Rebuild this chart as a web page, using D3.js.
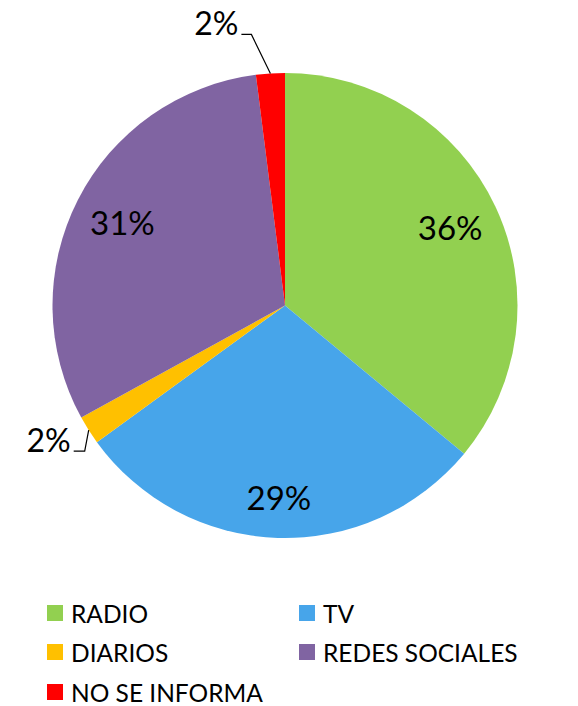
<!DOCTYPE html>
<html>
<head>
<meta charset="utf-8">
<script src="https://cdn.jsdelivr.net/npm/d3@7"></script>
<style>
  html, body { margin: 0; padding: 0; background: #fff; }
  svg { display: block; }
  text { font-family: Lato, "Open Sans", sans-serif; fill: #000; }
</style>
</head>
<body>
<svg id="chart" width="578" height="706"></svg>
<script>
// Media sources (share of respondents, %)
const categories = ["RADIO", "TV", "DIARIOS", "REDES SOCIALES", "NO SE INFORMA"];
const values = [36, 29, 2, 31, 2];
const colors = ["#92D050", "#47A5EA", "#FFC000", "#8064A2", "#FF0000"];
const labels = ["36%", "29%", "2%", "31%", "2%"];

const svg = d3.select("#chart");
const cx = 285, cy = 305.5, R = 232.5;

const pie = d3.pie().sort(null).value(d => d.value);
const arcs = pie(categories.map((c, i) => ({ name: c, value: values[i], color: colors[i], label: labels[i] })));

const arc = d3.arc().innerRadius(0).outerRadius(R);
const g = svg.append("g").attr("transform", `translate(${cx},${cy})`);

g.selectAll("path.slice")
  .data(arcs)
  .join("path")
  .attr("class", "slice")
  .attr("d", arc)
  .attr("fill", d => d.data.color);

// Point on a circle of radius r at the middle angle of a slice (plus optional turn)
function polar(d, r, turn = 0) {
  const a = (d.startAngle + d.endAngle) / 2 + turn;
  return [r * Math.sin(a), -r * Math.cos(a)];
}

// Large slices: label inside; small slices: label outside with leader line
const inside = arcs.filter(d => d.data.value >= 5);
const outside = arcs.filter(d => d.data.value < 5);

// Bottom-facing labels sit a little further out
const insideR = d => {
  const mid = (d.startAngle + d.endAngle) / 2;
  return Math.cos(mid) < -0.9 ? R * 0.83 : R * 0.785;
};

g.selectAll("text.inside")
  .data(inside)
  .join("text")
  .attr("class", "inside")
  .attr("x", d => polar(d, insideR(d))[0])
  .attr("y", d => polar(d, insideR(d))[1])
  .attr("dy", "0.36em")
  .attr("text-anchor", "middle")
  .style("font-size", "33px")
  .text(d => d.data.label);

// Leader elbows: offset of knee from the rim point, horizontal run length
function leader(d) {
  const [x0, y0] = polar(d, R);
  const mid = (d.startAngle + d.endAngle) / 2;
  const top = Math.cos(mid) > 0.9;
  const knee = top ? [x0 - 19, y0 - 39] : [x0 - 4, y0 + 21];
  const end = [knee[0] - (top ? 10 : 11), knee[1]];
  return { pts: [[x0, y0], knee, end], end };
}

outside.forEach(d => {
  const L = leader(d);
  g.append("path")
    .attr("d", d3.line()(L.pts))
    .attr("fill", "none")
    .attr("stroke", "#000")
    .attr("stroke-width", 1.2);
  g.append("text")
    .attr("x", L.end[0] - 3)
    .attr("y", L.end[1] + 1)
    .attr("text-anchor", "end")
    .style("font-size", "32px")
    .text(d.data.label);
});

// Legend: two columns
const legend = svg.append("g");
const colX = [47, 299], rowY = [605, 644, 684], sw = 16;
const items = legend.selectAll("g.item")
  .data(arcs.map(d => d.data))
  .join("g")
  .attr("class", "item")
  .attr("transform", (d, i) => `translate(${colX[i % 2]},${rowY[Math.floor(i / 2)]})`);

items.append("rect")
  .attr("width", sw).attr("height", sw)
  .attr("fill", d => d.color);

items.append("text")
  .attr("x", sw + 8)
  .attr("y", sw + 1.5)
  .style("font-size", "24.5px")
  .text(d => d.name);
</script>
</body>
</html>
